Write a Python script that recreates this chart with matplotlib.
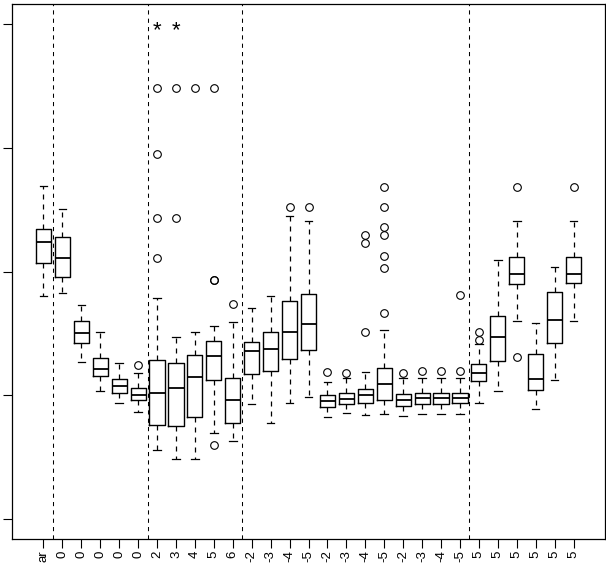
import matplotlib
matplotlib.use("Agg")
import matplotlib.pyplot as plt

plt.rcParams['font.family'] = ['Liberation Sans', 'DejaVu Sans']

labels = ["ar", "0", "0", "0", "0", "0", "2", "3", "4", "5", "6",
          "-2", "-3", "-4", "-5", "-2", "-3", "-4", "-5", "-2", "-3", "-4", "-5",
          "5", "5", "5", "5", "5", "5"]

whislo = [1.802, 1.824, 1.266, 1.034, 0.935, 0.862, 0.558, 0.485, 0.485, 0.693, 0.630,
          0.929, 0.778, 0.935, 0.986, 0.827, 0.854, 0.840, 0.846, 0.835, 0.851, 0.851, 0.851,
          0.935, 1.034, 1.600, 0.891, 1.126, 1.600]
q1 = [2.066, 1.958, 1.425, 1.156, 1.016, 0.962, 0.760, 0.752, 0.827, 1.123, 0.773,
      1.172, 1.194, 1.291, 1.363, 0.903, 0.927, 0.937, 0.964, 0.913, 0.927, 0.927, 0.937,
      1.118, 1.279, 1.899, 1.040, 1.425, 1.905]
med = [2.241, 2.112, 1.501, 1.210, 1.075, 1.002, 1.021, 1.056, 1.145, 1.317, 0.962,
       1.358, 1.376, 1.511, 1.573, 0.951, 0.970, 1.002, 1.093, 0.962, 0.975, 0.975, 0.975,
       1.177, 1.473, 1.977, 1.134, 1.608, 1.977]
q3 = [2.346, 2.281, 1.602, 1.303, 1.131, 1.061, 1.285, 1.263, 1.323, 1.441, 1.137,
      1.428, 1.511, 1.764, 1.821, 1.002, 1.016, 1.053, 1.218, 1.008, 1.021, 1.021, 1.021,
      1.250, 1.638, 2.120, 1.336, 1.834, 2.120]
whishi = [2.691, 2.505, 1.732, 1.509, 1.263, 1.177, 1.783, 1.468, 1.509, 1.562, 1.590,
          1.703, 1.804, 2.451, 2.411, 1.105, 1.142, 1.185, 1.527, 1.137, 1.142, 1.142, 1.142,
          1.414, 2.093, 2.408, 1.586, 2.034, 2.408]
outliers = [[], [], [], [], [], [1.244],
            [3.480, 2.949, 2.435, 2.112], [3.480, 2.435], [3.480],
            [3.480, 1.931, 1.931, 0.598], [1.735],
            [], [], [2.524], [2.524],
            [1.185], [1.177], [2.297, 2.230, 1.509],
            [2.685, 2.521, 2.362, 2.295, 2.128, 2.031, 1.667],
            [1.182], [1.196], [1.196], [1.808, 1.196],
            [1.514, 1.446], [], [2.685, 1.312], [], [], [2.685]]

separators = [1.5, 6.5, 11.5, 23.5]
star_positions = [7, 8]
star_level = 3.90
yticks = [0, 1, 2, 3, 4]

fig = plt.figure(figsize=(6.06, 5.65), dpi=100)
ax = fig.add_axes([12 / 606, 26 / 565, 593 / 606, 535 / 565])

stats = []
for i in range(len(labels)):
    stats.append(dict(med=med[i], q1=q1[i], q3=q3[i], whislo=whislo[i],
                      whishi=whishi[i], fliers=outliers[i]))

positions = list(range(1, len(labels) + 1))
ax.bxp(stats, positions=positions, widths=0.8, showfliers=True,
       boxprops=dict(color='black', linewidth=1.0),
       medianprops=dict(color='black', linewidth=1.3),
       whiskerprops=dict(color='black', linewidth=0.9, linestyle=(0, (4, 4))),
       capprops=dict(color='black', linewidth=0.9),
       flierprops=dict(marker='o', markerfacecolor='none', markeredgecolor='black',
                       markersize=5.5, markeredgewidth=0.8),
       capwidths=0.4, manage_ticks=False)

for s in separators:
    ax.axvline(s, color='black', linewidth=0.75, linestyle=(0, (4, 4)))

for p in star_positions:
    ax.text(p, star_level, "*", ha='center', va='baseline', fontsize=16)

ax.set_xlim(-0.66, 30.66)
ax.set_ylim(-0.162, 4.162)
ax.set_xticks(positions)
ax.set_xticklabels(labels, rotation=90, fontsize=9.5, va='top')
ax.set_yticks(yticks)
ax.set_yticklabels([])
ax.tick_params(axis='x', length=8.5 * 0.72, width=0.8, pad=2.0)
ax.tick_params(axis='y', length=9 * 0.72, width=0.8)
for sp in ax.spines.values():
    sp.set_linewidth(0.9)

fig.savefig("out.png", dpi=100)
